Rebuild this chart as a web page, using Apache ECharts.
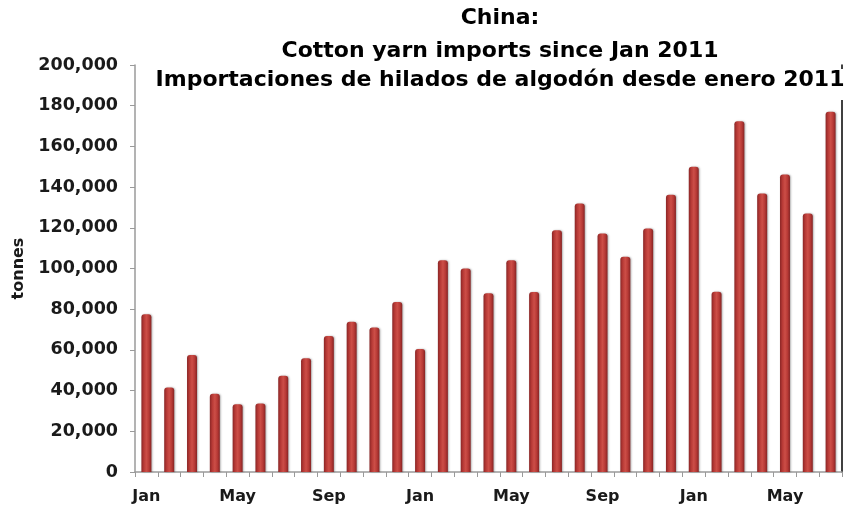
<!DOCTYPE html>
<html>
<head>
<meta charset="utf-8">
<script src="https://cdn.jsdelivr.net/npm/echarts@6/dist/echarts.min.js"></script>
<style>
html,body{margin:0;padding:0;background:#fff;}
#chart{width:852px;height:508px;}
</style>
</head>
<body>
<div id="chart"></div>
<script>
const categories = ["Jan","Feb","Mar","Apr","May","Jun","Jul","Aug","Sep","Oct","Nov","Dec",
  "Jan","Feb","Mar","Apr","May","Jun","Jul","Aug","Sep","Oct","Nov","Dec",
  "Jan","Feb","Mar","Apr","May","Jun","Jul"];
const imports = [77500, 41500, 57500, 38500, 33300, 33600, 47300, 55900, 66800, 73800, 71000, 83500,
  60500, 104000, 100000, 87800, 104000, 88500, 118800, 132000, 117200, 105800, 119600, 136300,
  150000, 88600, 172400, 136800, 146200, 127000, 177000];
const titleLines = ["China:", "Cotton yarn imports since Jan 2011", "Importaciones de hilados de algodón desde enero 2011"];
const yAxisName = "tonnes";

const titleTops = [7, 40, 69];
const titleStyle = {
  fontFamily: 'DejaVu Sans',
  fontWeight: 'bold',
  fontSize: 22,
  lineHeight: 22,
  color: '#000'
};

const chart = echarts.init(document.getElementById('chart'));
chart.setOption({
  animation: false,
  backgroundColor: '#fff',
  title: titleLines.map((t, i) => ({
    text: t,
    left: 500,
    top: titleTops[i],
    textAlign: 'center',
    backgroundColor: i === 2 ? '#fff' : 'transparent',
    padding: i === 2 ? [0, 0, 9, 0] : 0,
    textStyle: titleStyle
  })),
  grid: { left: 135, right: 10, top: 65, bottom: 36, containLabel: false },
  xAxis: {
    type: 'category',
    data: categories,
    boundaryGap: true,
    axisLine: { lineStyle: { color: '#9a9a9a', width: 1.5 } },
    axisTick: { show: true, interval: 0, length: 5, lineStyle: { color: '#9a9a9a' } },
    axisLabel: {
      interval: 3,
      margin: 17,
      fontFamily: 'DejaVu Sans',
      fontWeight: 'bold',
      fontSize: 16,
      color: '#1a1a1a'
    }
  },
  yAxis: [{
    type: 'value',
    min: 0,
    max: 200000,
    interval: 20000,
    name: yAxisName,
    nameLocation: 'middle',
    nameGap: 108,
    nameRotate: 90,
    nameTextStyle: { fontFamily: 'DejaVu Sans', fontWeight: 'bold', fontSize: 16, color: '#1a1a1a' },
    axisLine: { show: true, lineStyle: { color: '#9a9a9a', width: 1.5 } },
    axisTick: { show: true, length: 5, lineStyle: { color: '#9a9a9a' } },
    splitLine: { show: false },
    axisLabel: {
      margin: 17,
      fontFamily: 'DejaVu Sans',
      fontWeight: 'bold',
      fontSize: 17.5,
      color: '#1a1a1a',
      formatter: v => v.toLocaleString('en-US')
    }
  }, {
    type: 'value',
    position: 'right',
    min: 0,
    max: 200000,
    interval: 20000,
    axisLine: { show: true, lineStyle: { color: '#000', width: 1.5 } },
    axisTick: { show: false },
    axisLabel: { show: false },
    splitLine: { show: false }
  }],
  series: [{
    type: 'bar',
    data: imports,
    barWidth: 10,
    itemStyle: {
      borderRadius: [3, 3, 0, 0],
      color: new echarts.graphic.LinearGradient(0, 0, 1, 0, [
        { offset: 0, color: '#8a2626' },
        { offset: 0.25, color: '#b83a36' },
        { offset: 0.5, color: '#cc4e47' },
        { offset: 0.75, color: '#b83a36' },
        { offset: 1, color: '#862424' }
      ]),
      shadowColor: 'rgba(0,0,0,0.3)',
      shadowBlur: 2,
      shadowOffsetX: 1,
      shadowOffsetY: 0
    }
  }]
});
</script>
</body>
</html>
